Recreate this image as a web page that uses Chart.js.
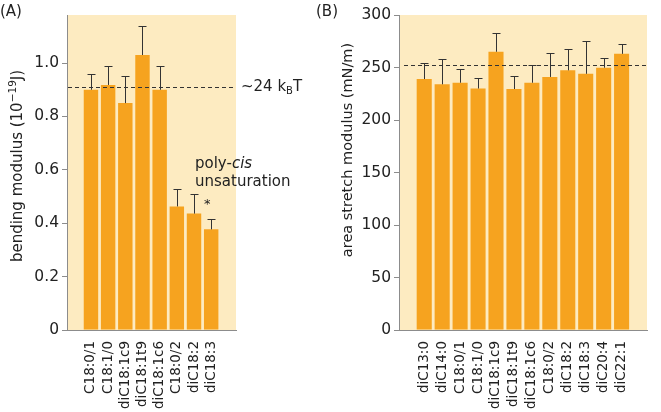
<!DOCTYPE html>
<html>
<head>
<meta charset="utf-8">
<script src="https://cdn.jsdelivr.net/npm/chart.js@4"></script>
<style>
  html, body { margin: 0; padding: 0; background: #fff; }
  #wrap { position: relative; width: 661px; height: 412px; overflow: hidden; }
  #boxA { position: absolute; left: 0; top: 0; width: 312px; height: 412px; }
  #boxB { position: absolute; left: 312px; top: 0; width: 349px; height: 412px; }
</style>
</head>
<body>
<div id="wrap">
  <div id="boxA"><canvas id="chartA"></canvas></div>
  <div id="boxB"><canvas id="chartB"></canvas></div>
</div>
<script>
// panel A: bending modulus (10^-19 J)
const bendLabels = ['C18:0/1', 'C18:1/0', 'diC18:1c9', 'diC18:1t9', 'diC18:1c6', 'C18:0/2', 'diC18:2', 'diC18:3'];
const bendValues = [0.90, 0.918, 0.85, 1.03, 0.90, 0.463, 0.436, 0.377];
const bendErrors = [0.06, 0.072, 0.10, 0.11, 0.09, 0.067, 0.074, 0.04];
const bendRef = 0.91;

// panel B: area stretch modulus (mN/m)
const stretchLabels = ['diC13:0', 'diC14:0', 'C18:0/1', 'C18:1/0', 'diC18:1c9', 'diC18:1t9', 'diC18:1c6', 'C18:0/2', 'diC18:2', 'diC18:3', 'diC20:4', 'diC22:1'];
const stretchValues = [239, 234, 235.5, 230, 265, 229.5, 235.5, 241, 247.3, 244, 249.8, 263];
const stretchErrors = [15, 24, 13.5, 10, 18, 12, 16.5, 22.5, 20.7, 31.5, 9.5, 9.7];
const stretchRef = 252;

const BAR = '#f6a31f';
const BG = '#fdebc1';
const AXIS = '#8c8c8c';
const INK = '#222';
const FONT = "'DejaVu Sans', sans-serif";

const bgPlugin = {
    id: 'bg',
    beforeDraw(chart) {
        const a = chart.chartArea;
        const ctx = chart.ctx;
        ctx.save();
        ctx.fillStyle = BG;
        ctx.fillRect(a.left, a.top, a.right - a.left, a.bottom - a.top);
        ctx.restore();
    }
};

// upper error bars + dashed reference line
const errPlugin = {
    id: 'errbars',
    afterDatasetsDraw(chart, args, opts) {
        const ctx = chart.ctx;
        const xs = chart.scales.x, ys = chart.scales.y;
        const a = chart.chartArea;
        ctx.save();
        ctx.strokeStyle = '#333';
        ctx.lineWidth = 1;
        opts.values.forEach((v, i) => {
            const x = Math.round(xs.getPixelForValue(i + 1)) + 0.5;
            const y0 = ys.getPixelForValue(v);
            const y1 = Math.round(ys.getPixelForValue(v + opts.errors[i])) + 0.5;
            ctx.beginPath();
            ctx.moveTo(x, y0);
            ctx.lineTo(x, y1);
            ctx.moveTo(x - 4, y1);
            ctx.lineTo(x + 4, y1);
            ctx.stroke();
        });
        const yr = Math.round(ys.getPixelForValue(opts.ref)) + 0.5;
        ctx.setLineDash([4, 3]);
        ctx.beginPath();
        ctx.moveTo(a.left + opts.dashStart, yr);
        ctx.lineTo(a.right, yr);
        ctx.stroke();
        ctx.restore();
    }
};

// draws pieces of text one after another: [text, font, dy]
function drawRun(ctx, parts, x, y) {
    parts.forEach(p => {
        ctx.font = p[1];
        ctx.fillText(p[0], x, y + (p[2] || 0));
        x += ctx.measureText(p[0]).width;
    });
}
function runWidth(ctx, parts) {
    let w = 0;
    parts.forEach(p => { ctx.font = p[1]; w += ctx.measureText(p[0]).width; });
    return w;
}

const textPlugin = {
    id: 'texts',
    afterDraw(chart, args, opts) {
        const ctx = chart.ctx;
        ctx.save();
        ctx.fillStyle = INK;
        ctx.textBaseline = 'middle';
        ctx.font = '15px ' + FONT;
        ctx.fillText(opts.panel, opts.panelX, 12);

        // y-axis title, rotated
        const w = runWidth(ctx, opts.title);
        ctx.save();
        ctx.translate(opts.titleX, opts.titleY);
        ctx.rotate(-Math.PI / 2);
        drawRun(ctx, opts.title, -w / 2, 0);
        ctx.restore();

        if (opts.annotate) {
            const ys = chart.scales.y;
            const yr = ys.getPixelForValue(bendRef);
            drawRun(ctx, [['~24 k', '15px ' + FONT], ['B', '10px ' + FONT, 4], ['T', '15px ' + FONT]], 241, yr);
            drawRun(ctx, [['poly-', '15px ' + FONT], ['cis', 'italic 15px ' + FONT]], 195, 164);
            ctx.font = '15px ' + FONT;
            ctx.fillText('unsaturation', 195, 182);
            ctx.font = '13px ' + FONT;
            ctx.fillText('*', 204, 205);
        }
        ctx.restore();
    }
};

function makeChart(id, labels, values, errors, ref, cfg) {
    const points = values.map((v, i) => ({ x: i + 1, y: v }));
    return new Chart(document.getElementById(id), {
        type: 'bar',
        data: {
            datasets: [{
                data: points,
                backgroundColor: BAR,
                borderWidth: 0,
                barPercentage: 0.84,
                categoryPercentage: 1.0
            }]
        },
        plugins: [bgPlugin, errPlugin, textPlugin],
        options: {
            responsive: true,
            maintainAspectRatio: false,
            animation: false,
            layout: { padding: cfg.padding },
            scales: {
                x: {
                    type: 'linear',
                    min: cfg.xmin,
                    max: cfg.xmax,
                    afterBuildTicks: s => { s.ticks = labels.map((_, i) => ({ value: i + 1 })); },
                    afterFit: s => { s.height = 82; },
                    grid: { display: false },
                    border: { display: true, color: AXIS, width: 1 },
                    ticks: {
                        autoSkip: false,
                        maxRotation: 90,
                        minRotation: 90,
                        padding: 3,
                        color: INK,
                        font: { family: FONT, size: 13.5 },
                        callback: v => labels[Math.round(v) - 1]
                    }
                },
                y: {
                    min: 0,
                    max: cfg.ymax,
                    afterFit: s => { s.width = cfg.yWidth; },
                    grid: { drawOnChartArea: false, drawTicks: true, tickLength: 5, color: AXIS },
                    border: { display: true, color: AXIS, width: 1 },
                    ticks: {
                        stepSize: cfg.step,
                        includeBounds: false,
                        padding: 3,
                        color: INK,
                        font: { family: FONT, size: 15.5 },
                        callback: cfg.fmt
                    }
                }
            },
            plugins: {
                legend: { display: false },
                tooltip: { enabled: false },
                errbars: { values: values, errors: errors, ref: ref, dashStart: cfg.dashStart },
                texts: {
                    panel: cfg.panel, panelX: cfg.panelX,
                    title: cfg.title, titleX: cfg.titleX, titleY: cfg.titleY,
                    annotate: cfg.annotate
                }
            }
        }
    });
}

makeChart('chartA', bendLabels, bendValues, bendErrors, bendRef, {
    padding: { top: 15, right: 76, left: 0, bottom: 0 },
    xmin: 0.22, xmax: 8.83,
    ymax: 1.18, step: 0.2,
    yWidth: 67,
    title: [['bending modulus (10', '15px ' + FONT], ['\u221219', '10.5px ' + FONT, -5], ['J)', '15px ' + FONT]],
    titleX: 18, titleY: 166,
    fmt: v => v === 0 ? '0' : v.toFixed(1),
    panel: '(A)', panelX: 0,
    dashStart: 1,
    annotate: true
});

makeChart('chartB', stretchLabels, stretchValues, stretchErrors, stretchRef, {
    padding: { top: 15, right: 14, left: 14, bottom: 0 },
    xmin: 0.17, xmax: 12.84,
    ymax: 300, step: 50,
    yWidth: 73,
    title: [['area stretch modulus (mN/m)', '14.5px ' + FONT]],
    titleX: 36, titleY: 150,
    fmt: v => String(v),
    panel: '(B)', panelX: 4,
    dashStart: 5,
    annotate: false
});
</script>
</body>
</html>
